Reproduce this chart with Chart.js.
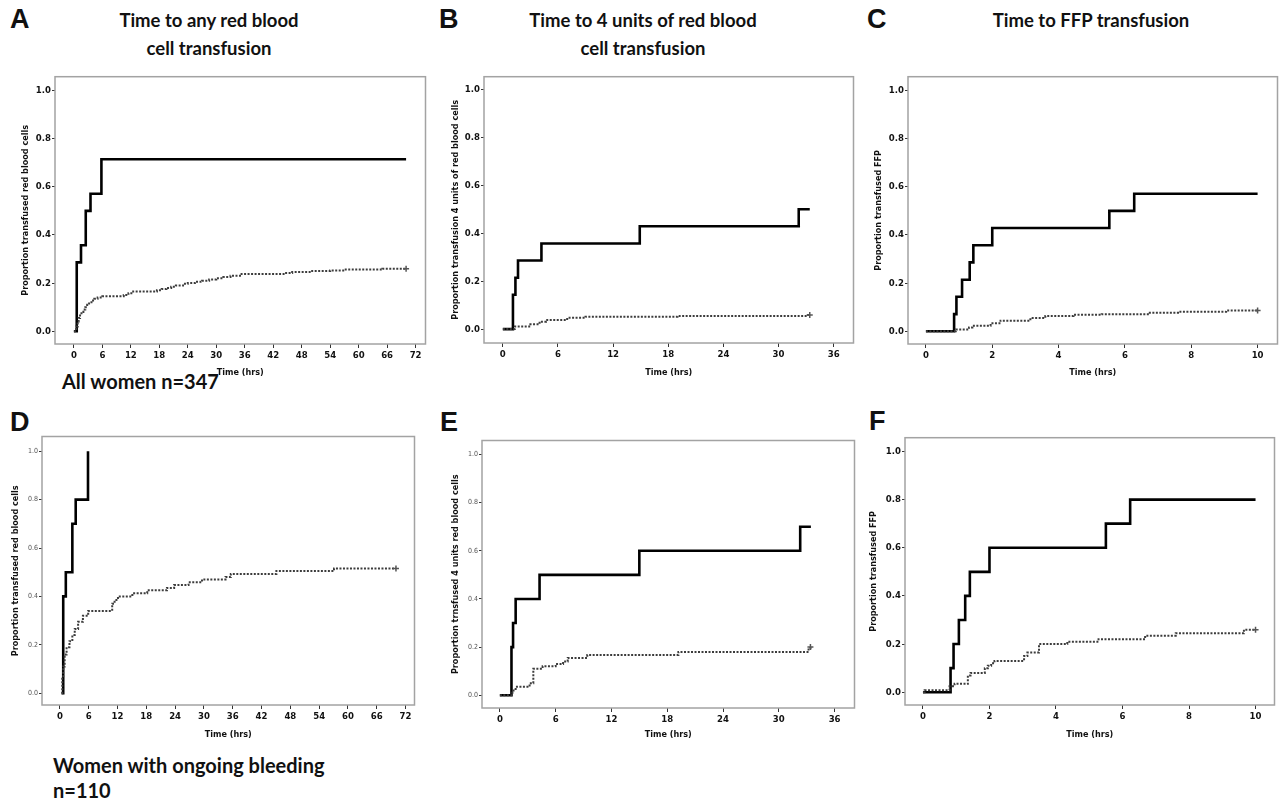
<!DOCTYPE html>
<html>
<head>
<meta charset="utf-8">
<script src="https://cdn.jsdelivr.net/npm/chart.js@4.4.1/dist/chart.umd.min.js"></script>
<style>
body { margin:0; background:#fff; width:1282px; height:799px; position:relative; overflow:hidden; }
canvas { position:absolute; }
.letra { position:absolute; font-family:"Liberation Sans", Arial, sans-serif; font-weight:bold; font-size:27px; line-height:27px; color:#111; }
.titulo { position:absolute; width:400px; text-align:center; font-family:Lato, "Open Sans", sans-serif; font-weight:bold; font-size:18.5px; line-height:28px; color:#111; }
.grupo { position:absolute; font-family:Lato, "Open Sans", sans-serif; font-weight:bold; font-size:20px; line-height:25px; color:#111; }
</style>
</head>
<body>
<div class="letra" style="left:10px;top:6px">A</div>
<div class="letra" style="left:439px;top:6px">B</div>
<div class="letra" style="left:867px;top:6px">C</div>
<div class="letra" style="left:10px;top:409px">D</div>
<div class="letra" style="left:440px;top:409px">E</div>
<div class="letra" style="left:869px;top:408px">F</div>

<div class="titulo" style="left:9px;top:6px">Time to any red blood<br>cell transfusion</div>
<div class="titulo" style="left:443px;top:6px">Time to 4 units of red blood<br>cell transfusion</div>
<div class="titulo" style="left:891px;top:6px">Time to FFP transfusion</div>

<div class="grupo" style="left:62px;top:369px">All women n=347</div>
<div class="grupo" style="left:53px;top:753px">Women with ongoing bleeding<br>n=110</div>

<canvas id="graficaA"></canvas>
<canvas id="graficaB"></canvas>
<canvas id="graficaC"></canvas>
<canvas id="graficaD"></canvas>
<canvas id="graficaE"></canvas>
<canvas id="graficaF"></canvas>

<script>
// Curvas de transfusión acumulada (escalones)

var ticksY = [0, 0.2, 0.4, 0.6, 0.8, 1.0];
var ticksHoras72 = [0, 6, 12, 18, 24, 30, 36, 42, 48, 54, 60, 66, 72];
var ticksHoras36 = [0, 6, 12, 18, 24, 30, 36];
var ticksHoras10 = [0, 2, 4, 6, 8, 10];

// A - cualquier transfusión de glóbulos rojos (todas)
var aSolidoT = [0, 0.6, 1.5, 2.5, 3.5, 5.8, 70];
var aSolidoP = [0, 0.286, 0.357, 0.5, 0.571, 0.714, 0.714];
var aPuntosT = [0, 0.3, 0.5, 0.8, 1, 1.3, 1.6, 2, 2.4, 2.8, 3.2, 3.7, 4.3, 5, 6, 10.5, 11.5, 12.5, 17.5, 18.5, 19.5, 20.5, 21.5, 23, 24, 25.5, 27, 28.5, 30, 31.5, 33, 35, 44.5, 46, 50, 54, 57, 65, 70];
var aPuntosP = [0, 0, 0.02, 0.04, 0.055, 0.07, 0.08, 0.09, 0.1, 0.11, 0.12, 0.128, 0.135, 0.14, 0.145, 0.15, 0.158, 0.165, 0.17, 0.175, 0.18, 0.185, 0.19, 0.197, 0.2, 0.205, 0.21, 0.215, 0.22, 0.225, 0.23, 0.238, 0.242, 0.246, 0.25, 0.252, 0.256, 0.26, 0.26];

// B - 4 unidades
var bSolidoT = [0, 1.1, 1.37, 1.65, 4.2, 14.9, 32.2, 33.4];
var bSolidoP = [0, 0.143, 0.214, 0.286, 0.357, 0.429, 0.5, 0.5];
var bPuntosT = [0, 1.3, 3.0, 4.0, 4.7, 7.0, 9.0, 19.0, 33.2, 33.4];
var bPuntosP = [0, 0.011, 0.02, 0.031, 0.038, 0.047, 0.052, 0.055, 0.059, 0.059];

// C - FFP
var cSolidoT = [0, 0.85, 0.92, 1.09, 1.32, 1.43, 2.0, 5.53, 6.28, 10];
var cSolidoP = [0, 0.071, 0.143, 0.214, 0.286, 0.357, 0.429, 0.5, 0.571, 0.571];
var cPuntosT = [0, 0.9, 1.3, 1.4, 1.95, 2.25, 3.15, 3.6, 4.45, 5.3, 6.75, 7.6, 9.05, 10];
var cPuntosP = [0, 0.007, 0.016, 0.023, 0.033, 0.044, 0.055, 0.063, 0.068, 0.071, 0.077, 0.081, 0.086, 0.086];

// D - sangrado activo, glóbulos rojos
var dSolidoT = [0.35, 0.7, 1.24, 2.6, 3.3, 5.86];
var dSolidoP = [0, 0.4, 0.5, 0.7, 0.8, 1.0];
var dPuntosT = [0.35, 0.5, 0.7, 1.0, 1.4, 2.0, 2.6, 3.1, 3.8, 4.8, 5.9, 10.9, 11.4, 12.1, 15.1, 18.2, 22.3, 23.8, 26.8, 29.6, 34.5, 35.6, 45.1, 57.1, 70];
var dPuntosP = [0, 0.06, 0.11, 0.16, 0.19, 0.215, 0.24, 0.265, 0.295, 0.32, 0.34, 0.37, 0.385, 0.4, 0.413, 0.425, 0.435, 0.447, 0.458, 0.47, 0.48, 0.493, 0.505, 0.515, 0.515];

// E - sangrado activo, 4 unidades
var eSolidoT = [0, 1.25, 1.42, 1.7, 4.27, 15.0, 32.3, 33.45];
var eSolidoP = [0, 0.2, 0.3, 0.4, 0.5, 0.6, 0.7, 0.7];
var ePuntosT = [0, 1.35, 1.7, 3.2, 3.6, 4.6, 6.0, 6.8, 7.3, 9.4, 19.2, 33.2, 33.4];
var ePuntosP = [0, 0.02, 0.035, 0.05, 0.11, 0.12, 0.13, 0.14, 0.155, 0.167, 0.18, 0.195, 0.2];

// F - sangrado activo, FFP
var fSolidoT = [0, 0.83, 0.92, 1.08, 1.27, 1.41, 2.0, 5.5, 6.23, 10];
var fSolidoP = [0, 0.1, 0.2, 0.3, 0.4, 0.5, 0.6, 0.7, 0.8, 0.8];
var fPuntosT = [0, 0.05, 0.8, 0.95, 1.35, 1.43, 1.86, 1.95, 2.05, 2.15, 3.04, 3.14, 3.49, 4.34, 5.28, 6.68, 7.6, 9.65, 10];
var fPuntosP = [0, 0.008, 0.025, 0.035, 0.07, 0.08, 0.1, 0.11, 0.12, 0.13, 0.15, 0.165, 0.2, 0.21, 0.22, 0.235, 0.245, 0.26, 0.26];

var fuenteEje = "'DejaVu Sans Condensed', 'Liberation Sans Narrow', 'DejaVu Sans', sans-serif";

function puntos(t, p) {
    return t.map(function (v, i) { return { x: v, y: p[i] }; });
}

var marco = {
    id: 'marco',
    beforeDatasetsDraw: function (chart) {
        var a = chart.chartArea, ctx = chart.ctx;
        ctx.save();
        ctx.strokeStyle = '#a3a3a3';
        ctx.lineWidth = 1.5;
        ctx.strokeRect(a.left, a.top, a.right - a.left, a.bottom - a.top);
        ctx.restore();
    }
};

function grafica(id, caja, tituloX, tituloY, rx, ry, ticksX, etiquetaY, fuenteTickY, solT, solP, punT, punP) {
    var lh = 10.8;
    var izq = Math.round(tituloX - lh / 2);
    var arriba = caja.t - 3;
    var ancho = caja.r + 3 - izq;
    var alto = Math.round(tituloY + lh / 2) - arriba;
    var el = document.getElementById(id);
    el.width = ancho; el.height = alto;
    el.style.left = izq + 'px'; el.style.top = arriba + 'px';
    var anchoY = caja.l - izq;
    var altoX = arriba + alto - caja.b;
    var fin = function (n) { return function (ctx) { return ctx.dataIndex === n - 1 ? 3 : 0; }; };

    new Chart(el, {
        type: 'line',
        data: {
            datasets: [{
                data: puntos(punT, punP),
                borderColor: '#3c3c3c',
                borderWidth: 2,
                borderDash: [2, 1.5],
                stepped: 'before',
                pointRadius: fin(punT.length),
                pointStyle: 'cross',
                pointBorderColor: '#555',
                pointBorderWidth: 1.5,
                fill: false
            }, {
                data: puntos(solT, solP),
                borderColor: '#000',
                borderWidth: 2.6,
                stepped: 'before',
                pointRadius: 0,
                fill: false
            }]
        },
        options: {
            responsive: false,
            animation: false,
            layout: { padding: { top: 3, right: 3, left: 0, bottom: 0 } },
            plugins: { legend: { display: false }, tooltip: { enabled: false } },
            scales: {
                x: {
                    type: 'linear', min: rx[0], max: rx[1],
                    afterBuildTicks: function (s) { s.ticks = ticksX.map(function (v) { return { value: v }; }); },
                    afterFit: function (s) { s.height = altoX; },
                    grid: { drawOnChartArea: false, tickLength: 4, color: '#333', lineWidth: 1 },
                    border: { display: false },
                    ticks: { autoSkip: false, maxRotation: 0, padding: 2, color: '#111',
                        font: { family: fuenteEje, size: 9.5, weight: 'bold' },
                        callback: function (v) { return String(v); } },
                    title: { display: true, text: 'Time (hrs)', padding: 0, color: '#111',
                        font: { family: fuenteEje, size: 9, weight: 'bold' } }
                },
                y: {
                    type: 'linear', min: ry[0], max: ry[1],
                    afterBuildTicks: function (s) { s.ticks = ticksY.map(function (v) { return { value: v }; }); },
                    afterFit: function (s) { s.width = anchoY; },
                    grid: { drawOnChartArea: false, tickLength: 3, color: '#333', lineWidth: 1 },
                    border: { display: false },
                    ticks: { padding: 1, color: fuenteTickY.color, font: fuenteTickY.font,
                        callback: function (v) { return v.toFixed(1); } },
                    title: { display: true, text: etiquetaY, padding: 0, color: '#111',
                        font: { family: fuenteEje, size: 9, weight: 'bold' } }
                }
            }
        },
        plugins: [marco]
    });
}

var tickNegrita = { color: '#111', font: { family: fuenteEje, size: 9.5, weight: 'bold' } };
var tickFino = { color: '#555', font: { family: fuenteEje, size: 7, weight: 'normal' } };

grafica('graficaA', { l: 55, t: 73, r: 428, b: 344 }, 25, 373, [-3.98, 74.09], [-0.053, 1.057], ticksHoras72,
    'Proportion transfused red blood cells', tickNegrita, aSolidoT, aSolidoP, aPuntosT, aPuntosP);
grafica('graficaB', { l: 484, t: 73, r: 856, b: 343 }, 455, 373, [-2.05, 38.16], [-0.058, 1.053], ticksHoras36,
    'Proportion transfusion 4 units of red blood cells', tickNegrita, bSolidoT, bSolidoP, bPuntosT, bPuntosP);
grafica('graficaC', { l: 908, t: 73, r: 1280, b: 344 }, 878, 373, [-0.54, 10.6], [-0.053, 1.057], ticksHoras10,
    'Proportion transfused FFP', tickNegrita, cSolidoT, cSolidoP, cPuntosT, cPuntosP);
grafica('graficaD', { l: 42, t: 434, r: 417, b: 705 }, 15, 735, [-3.72, 73.86], [-0.049, 1.061], ticksHoras72,
    'Proportion transfused red blood cells', tickFino, dSolidoT, dSolidoP, dPuntosT, dPuntosP);
grafica('graficaE', { l: 482, t: 438, r: 857, b: 708 }, 455, 735, [-1.92, 38.14], [-0.053, 1.058], ticksHoras36,
    'Proportion trnsfused 4 units red blood cells', tickFino, eSolidoT, eSolidoP, ePuntosT, ePuntosP);
grafica('graficaF', { l: 905, t: 434, r: 1277, b: 705 }, 873, 735, [-0.54, 10.57], [-0.053, 1.057], ticksHoras10,
    'Proportion transfused FFP', tickNegrita, fSolidoT, fSolidoP, fPuntosT, fPuntosP);
</script>
</body>
</html>
